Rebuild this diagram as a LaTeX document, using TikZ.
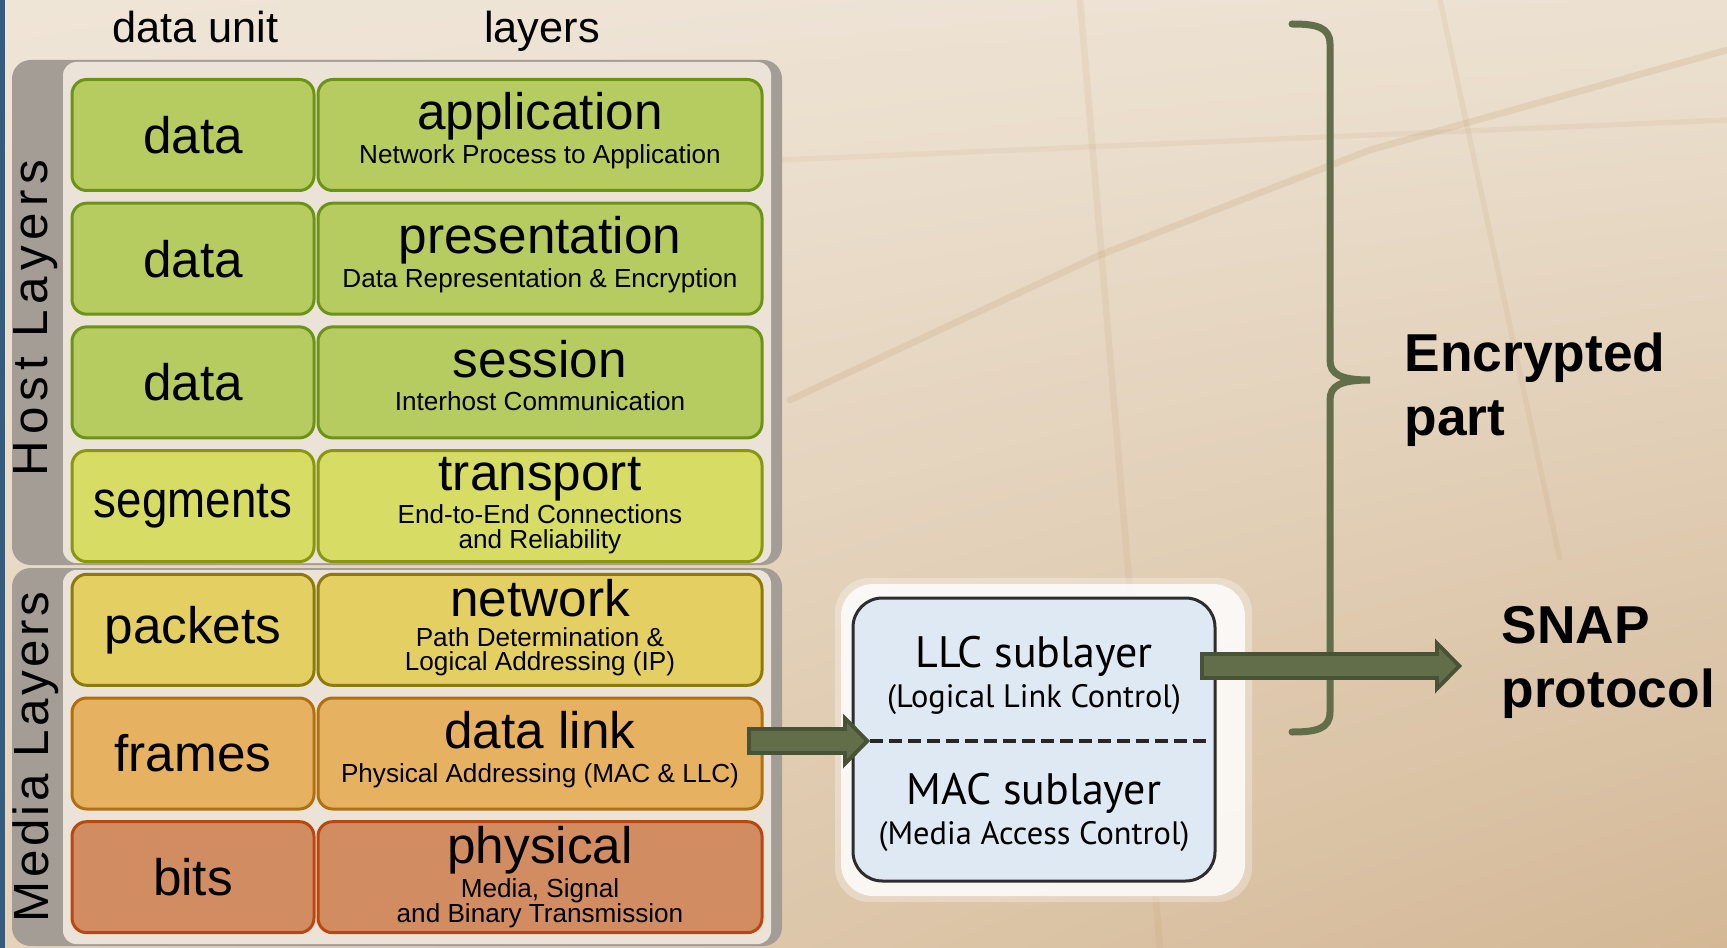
\documentclass[tikz,border=0pt]{standalone}
\usepackage{fontspec}
\usepackage{graphicx}
\setmainfont{Liberation Sans}
\newfontfamily\osifont{Liberation Sans}
\newfontfamily\hostfont[LetterSpace=12]{Liberation Sans}
\newfontfamily\mediafont[LetterSpace=7]{Liberation Sans}
\newfontfamily\sublayerfont{PT Sans}
\newfontfamily\notefont{Liberation Sans}
\usetikzlibrary{arrows.meta,calc,shadings}

\definecolor{bgtl}{RGB}{239,229,215}
\definecolor{bgtr}{RGB}{236,225,209}
\definecolor{bgbl}{RGB}{228,210,186}
\definecolor{bgbr}{RGB}{212,184,150}
\definecolor{bgline}{RGB}{196,158,116}
\definecolor{edgeblue}{RGB}{52,92,128}
\definecolor{panelgray}{RGB}{164,157,150}
\definecolor{panelcream}{RGB}{243,235,223}
\definecolor{appfill}{RGB}{182,204,96}
\definecolor{appedge}{RGB}{108,146,22}
\definecolor{trafill}{RGB}{214,220,100}
\definecolor{traedge}{RGB}{138,150,18}
\definecolor{netfill}{RGB}{228,208,98}
\definecolor{netedge}{RGB}{140,122,10}
\definecolor{dlfill}{RGB}{230,178,98}
\definecolor{dledge}{RGB}{176,112,16}
\definecolor{phyfill}{RGB}{210,140,98}
\definecolor{phyedge}{RGB}{184,72,16}
\definecolor{boxfill}{RGB}{222,233,243}
\definecolor{boxedge}{RGB}{45,45,45}
\definecolor{arrowfill}{RGB}{98,110,74}
\definecolor{arrowedge}{RGB}{72,82,52}

\tikzset{every picture/.style={line width=0.75pt},
  unitbox/.style={draw, rounded corners=11pt, line width=2.25pt, minimum width=181.5pt, minimum height=83.25pt, inner sep=0pt, font=\osifont\fontsize{38.5}{40}\selectfont},
  layerbox/.style={draw, rounded corners=11pt, line width=2.25pt, minimum width=333pt, minimum height=83.25pt, inner sep=0pt},
  layertitle/.style={anchor=base, inner sep=0pt, font=\osifont\fontsize{38.5}{40}\selectfont},
  layersub/.style={anchor=base, inner sep=0pt, font=\osifont\fontsize{19.6}{21}\selectfont},
  colhead/.style={anchor=base, inner sep=0pt, font=\osifont\fontsize{32.5}{34}\selectfont},
  subbox/.style={draw=boxedge, fill=boxfill, line width=2.25pt, rounded corners=22pt, minimum width=271.5pt, minimum height=212.25pt},
  subname/.style={inner sep=0pt, font=\sublayerfont\fontsize{33}{35}\selectfont},
  subnote/.style={inner sep=0pt, font=\sublayerfont\fontsize{24.3}{26}\selectfont},
  dashline/.style={draw=black!85, line width=3.2pt, dash pattern=on 9.75pt off 4.5pt},
  fatarrow/.style={draw=arrowfill, line width=15pt, shorten >=4.2pt, shorten <=3pt,
    -{Triangle[length=13pt,width=26.6pt,line width=0pt]},
    preaction={draw=arrowedge, line width=21pt, shorten >=0pt, shorten <=0pt,
      -{Triangle[length=20.25pt,width=41.25pt,line width=0pt]}}},
  bracket/.style={draw=arrowfill, line width=5.25pt, line cap=round},
  notetext/.style={anchor=west, align=left, inner sep=0pt, font=\notefont\bfseries\fontsize{40}{48}\selectfont}
}

\begin{document}
\begin{tikzpicture}[x=0.75pt,y=0.75pt,yscale=-1,xscale=1]
\useasboundingbox (0,0) rectangle (1727,948);
%Background
\shade[upper left=bgtl, upper right=bgtr, lower left=bgbl, lower right=bgbr] (0,0) rectangle (1727,948);
\draw[bgline, opacity=0.22, line width=5pt, line cap=round] (790,400) -- (1100,255) -- (1370,150) -- (1727,50);
\draw[bgline, opacity=0.15, line width=5pt] (1080,0) -- (1160,948);
\draw[bgline, opacity=0.15, line width=4pt] (1440,0) -- (1560,560);
\draw[bgline, opacity=0.12, line width=4pt] (780,160) -- (1727,120);
\fill[edgeblue] (0,0) rectangle (5,948);

%Rounded Rect: host layers panel
\fill[panelgray, rounded corners=14pt] (12,60) rectangle (782,565);
\fill[panelcream, opacity=0.9, rounded corners=10pt] (63,62) rectangle (771,563);
%Rounded Rect: media layers panel
\fill[panelgray, rounded corners=14pt] (12,568) rectangle (782,946);
\fill[panelcream, opacity=0.9, rounded corners=10pt] (63,570) rectangle (771,944);

% Text Node
\node[colhead] (hunit) at (195.5,43) {data unit};
% Text Node
\node[colhead] (hlayer) at (542,43) {layers};
% Text Node
\node[inner sep=0pt, rotate=90, font=\hostfont\fontsize{37}{38}\selectfont] (host) at (36,318) {Host Layers};
% Text Node
\node[inner sep=0pt, rotate=90, font=\mediafont\fontsize{37}{38}\selectfont] (media) at (36,757) {Media Layers};

% application
\node[unitbox, fill=appfill, draw=appedge] (u1) at (193,135) {data};
\node[layerbox, fill=appfill, draw=appedge] (l1) at (540,135) {};
\node[layertitle] (t1) at ($(l1.north)+(0,52)$) {application};
\node[layersub] (s1) at ($(l1.north)+(0,85.5)$) {Network Process to Application};

% presentation
\node[unitbox, fill=appfill, draw=appedge] (u2) at (193,258.7) {data};
\node[layerbox, fill=appfill, draw=appedge] (l2) at (540,258.7) {};
\node[layertitle] (t2) at ($(l2.north)+(0,52)$) {presentation};
\node[layersub] (s2) at ($(l2.north)+(0,85.5)$) {Data Representation \& Encryption};

% session
\node[unitbox, fill=appfill, draw=appedge] (u3) at (193,382.4) {data};
\node[layerbox, fill=appfill, draw=appedge] (l3) at (540,382.4) {};
\node[layertitle] (t3) at ($(l3.north)+(0,52)$) {session};
\node[layersub] (s3) at ($(l3.north)+(0,85.5)$) {Interhost Communication};

% transport
\node[unitbox, fill=trafill, draw=traedge] (u4) at (193,506.1) {\scalebox{0.89}[1]{segments}};
\node[layerbox, fill=trafill, draw=traedge] (l4) at (540,506.1) {};
\node[layertitle] (t4) at ($(l4.north)+(0,41.5)$) {transport};
\node[layersub] (s4) at ($(l4.north)+(0,74)$) {End-to-End Connections};
\node[layersub] (s4b) at ($(l4.north)+(0,99)$) {and Reliability};

% network
\node[unitbox, fill=netfill, draw=netedge] (u5) at (193,629.8) {packets};
\node[layerbox, fill=netfill, draw=netedge] (l5) at (540,629.8) {};
\node[layertitle] (t5) at ($(l5.north)+(0,44)$) {network};
\node[layersub] (s5) at ($(l5.north)+(0,73.5)$) {Path Determination \&};
\node[layersub] (s5b) at ($(l5.north)+(0,98)$) {Logical Addressing (IP)};

% data link
\node[unitbox, fill=dlfill, draw=dledge] (u6) at (193,753.5) {frames};
\node[layerbox, fill=dlfill, draw=dledge] (l6) at (540,753.5) {};
\node[layertitle] (t6) at ($(l6.north)+(0,52)$) {data link};
\node[layersub] (s6) at ($(l6.north)+(0,85.5)$) {Physical Addressing (MAC \& LLC)};

% physical
\node[unitbox, fill=phyfill, draw=phyedge] (u7) at (193,877.2) {bits};
\node[layerbox, fill=phyfill, draw=phyedge] (l7) at (540,877.2) {};
\node[layertitle] (t7) at ($(l7.north)+(0,43)$) {physical};
\node[layersub] (s7) at ($(l7.north)+(0,77.5)$) {Media, Signal};
\node[layersub] (s7b) at ($(l7.north)+(0,102.5)$) {and Binary Transmission};

%Rounded Rect: glow behind the sublayer box
\fill[white, opacity=0.3, rounded corners=26pt] (835,578) rectangle (1252,902);
\fill[white, opacity=0.8, rounded corners=24pt] (841,584) rectangle (1245,896);
\node[subbox] (sub) at (1034,739.5) {};
\coordinate (dashw) at (870,741);
\coordinate (dashe) at (1212,741);
\draw[dashline] (dashw) -- (dashe);
% Text Node
\node[subname] (llc) at (1034,656) {LLC sublayer};
\node[subnote] (llcnote) at (1034,700) {(Logical Link Control)};
\node[subname] (mac) at (1034,793) {MAC sublayer};
\node[subnote] (macnote) at (1034,837) {(Media Access Control)};

%Brace
\draw[bracket] (1292,24) .. controls (1316,24) and (1330,27) .. (1330,44) -- (1330,360) .. controls (1330,374) and (1340,380) .. (1370,380) .. controls (1340,380) and (1330,386) .. (1330,400) -- (1330,712) .. controls (1330,729) and (1316,732) .. (1292,732);

% Text Node
\node[notetext] (enc) at (1404,390) {Encrypted\\part};
\node[notetext] (snap) at (1501,662) {SNAP\\protocol};

%Arrows
\coordinate (snapin) at (1462,666);
\draw[fatarrow] ($(l6.east |- dashw)+(-17,0)$) -- (dashw);
\draw[fatarrow] ($(sub.east |- snapin)+(-17,0)$) -- (snapin);
\end{tikzpicture}
\end{document}
